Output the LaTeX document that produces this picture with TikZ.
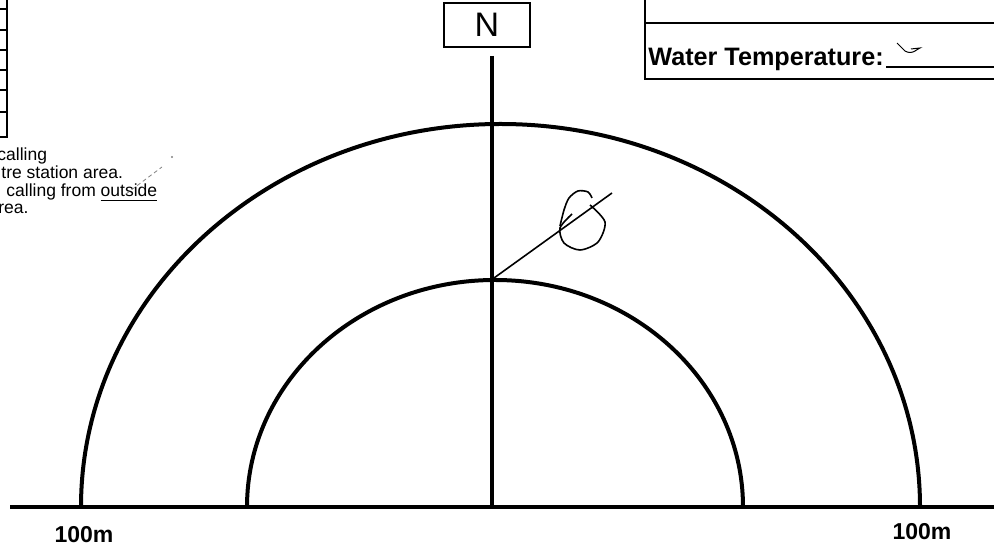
\documentclass[tikz,border=0pt]{standalone}
\usepackage{fontspec}
\setmainfont{Liberation Sans}
\usepackage{tikz}

\tikzset{
    ring/.style={line width=2pt},
    boxline/.style={line width=1pt},
    pen/.style={line width=0.8pt},
    note/.style={anchor=base west, inner sep=0pt, font=\fontsize{8.75}{10}\selectfont},
    mark100/.style={inner sep=0pt, font=\fontsize{11.5}{13}\selectfont\bfseries}
}

\begin{document}
\begin{tikzpicture}[x=0.5pt, y=0.5pt]
    \useasboundingbox (0,0) rectangle (994,550);

    % table edge, top left
    \draw[line width=1pt] (7,550) -- (7,413) -- (0,413);
    \foreach \yy in {541,520,500,480,460,438}
        \draw[line width=0.6pt] (0,\yy) -- (7,\yy);

    % notes, top left
    \node[note] (n1) at (-3,389) {calling};
    \node[note] (n2) at (1,371) {tre station area.};
    \node[note] (n3) at (6,353) {calling from \underline{outside}};
    \node[note] (n4) at (-2,336) {rea.};
    \coordinate (tick) at (162,383);
    \draw[line width=0.4pt, dash pattern=on 2pt off 1.5pt, gray] (126,356) -- (tick);
    \fill[gray] (172,393) circle (1.2);

    % north box
    \node[draw, boxline, minimum width=43pt, minimum height=22pt,
          font=\fontsize{17}{19}\selectfont] (nbox) at (487,525) {N};

    % water temperature box, top right
    \draw[boxline] (645,550) -- (645,471) -- (994,471);
    \draw[line width=1.3pt] (645,527) -- (994,527);
    \node[anchor=base west, inner sep=0pt, font=\fontsize{12.6}{14}\selectfont\bfseries]
        (wt) at (648,484) {Water Temperature:};
    \coordinate (wtend) at (994,483);
    \draw[line width=0.6pt] ([xshift=1pt, yshift=-0.5pt]wt.base east) -- (wtend);
    \draw[line width=0.5pt] (897,507) -- (905,499) .. controls (908,497) and (912,497) .. (915,499) .. controls (918,501) and (920,502) .. (920,502) -- (911,501);

    % ground line and rings
    \coordinate (origin) at (492,43);
    \coordinate (west) at (10,43);
    \coordinate (east) at (994,43);
    \draw[ring] (west) -- (east);
    \draw[ring] (81,43) arc[start angle=180, end angle=0, x radius=419.5, y radius=383];
    \draw[ring] (247,43) arc[start angle=180, end angle=0, x radius=248, y radius=227];
    \draw[ring, shorten <=4pt] (nbox.south -| origin) -- (origin);

    % distance labels
    \node[mark100] (d1) at (84,15) {100m};
    \node[mark100] (d2) at (922,18) {100m};

    % pen mark on inner ring
    \coordinate (p0) at (494,272);
    \coordinate (p1) at (612,357);
    \draw[pen] (p0) -- (p1);
    \draw[pen] plot[smooth] coordinates {(560,324) (564,340) (569,352) (578,359) (588,358) (592,352)};
    \draw[pen] plot[smooth] coordinates {(590,345) (605,328) (598,308) (580,300) (564,307) (560,322) (572,336)};
\end{tikzpicture}
\end{document}
